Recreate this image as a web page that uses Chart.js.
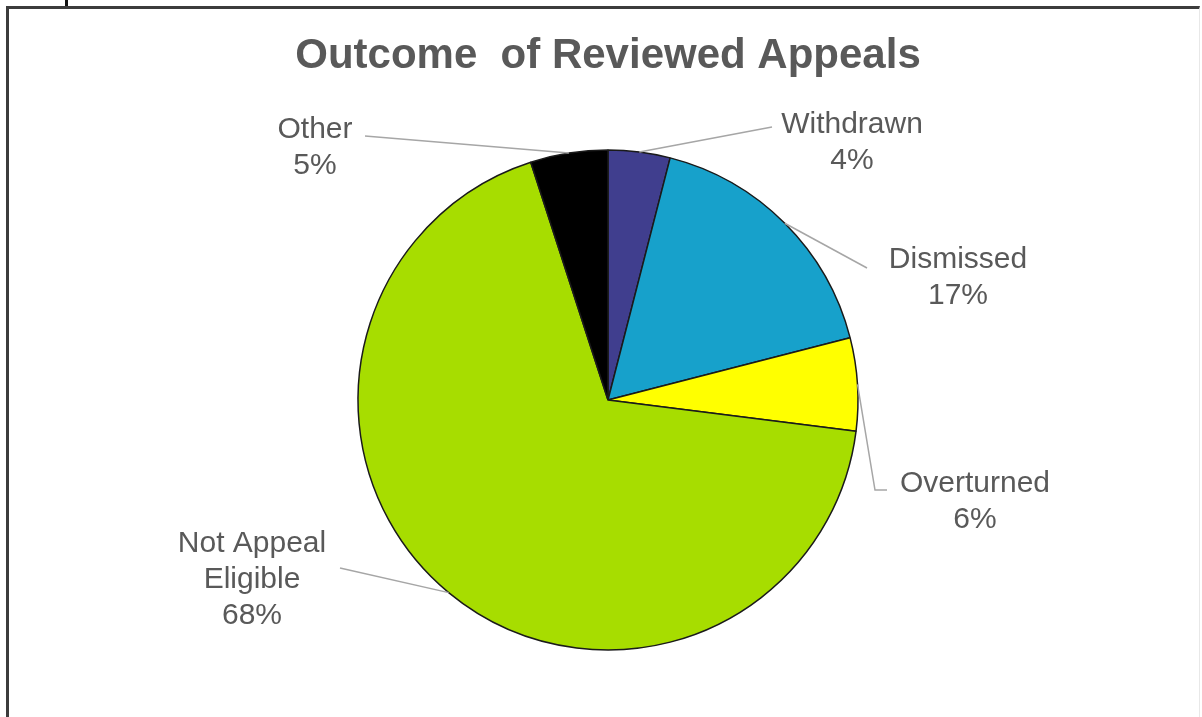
<!DOCTYPE html>
<html>
<head>
<meta charset="utf-8">
<script src="https://cdn.jsdelivr.net/npm/chart.js@4/dist/chart.umd.min.js"></script>
<style>
  html, body { margin: 0; padding: 0; background: #fff; }
  #wrap { position: relative; width: 1202px; height: 717px; overflow: hidden; }
  #frame {
    position: absolute; left: 6px; top: 6px; width: 1194px; height: 711px;
    border-top: 3px solid #3c3c3c; border-left: 3px solid #3c3c3c;
    border-right: 1px solid #e8e8e8; box-sizing: border-box;
  }
  #tick { position: absolute; left: 65px; top: 0; width: 3px; height: 6px; background: #111; }
  canvas { position: absolute; left: 0; top: 0; }
</style>
</head>
<body>
<div id="wrap">
  <div id="frame"></div>
  <div id="tick"></div>
  <canvas id="chart" width="1202" height="717"></canvas>
</div>
<script>
// Appeal outcomes, percent of reviewed appeals
const categories = [['Withdrawn'], ['Dismissed'], ['Overturned'], ['Not Appeal', 'Eligible'], ['Other']];
const shares = [4, 17, 6, 68, 5];
const sliceColors = ['#403e8e', '#17a1cb', '#ffff00', '#a7dd00', '#000000'];
const chartTitle = 'Outcome  of Reviewed Appeals';

// Callout placement relative to the pie centre: leader bend points and text anchor
const calloutLayout = [
  { path: [[164, -273]],            text: [244, -275] },
  { path: [[259, -132]],            text: [350, -140] },
  { path: [[267, 90], [279, 90]],   text: [367, 84] },
  { path: [[-268, 168]],            text: [-356, 144] },
  { path: [[-243, -264]],           text: [-293, -270] }
];

const calloutPlugin = {
  id: 'callouts',
  afterDatasetsDraw(chart) {
    const ctx = chart.ctx;
    const meta = chart.getDatasetMeta(0);
    meta.data.forEach((arc, i) => {
      const p = arc.getProps(['x', 'y', 'startAngle', 'endAngle', 'outerRadius'], true);
      const mid = (p.startAngle + p.endAngle) / 2;
      const sx = p.x + Math.cos(mid) * p.outerRadius;
      const sy = p.y + Math.sin(mid) * p.outerRadius;
      const lay = calloutLayout[i];
      ctx.save();
      ctx.strokeStyle = '#a6a6a6';
      ctx.lineWidth = 1.5;
      ctx.beginPath();
      ctx.moveTo(sx, sy);
      lay.path.forEach(pt => ctx.lineTo(p.x + pt[0], p.y + pt[1]));
      ctx.stroke();
      const lines = chart.data.labels[i].concat([shares[i] + '%']);
      ctx.fillStyle = '#595959';
      ctx.font = '30px "Liberation Sans", Arial, sans-serif';
      ctx.textAlign = 'center';
      ctx.textBaseline = 'middle';
      lines.forEach((t, k) => ctx.fillText(t, p.x + lay.text[0], p.y + lay.text[1] + k * 36));
      ctx.restore();
    });
  }
};

new Chart(document.getElementById('chart'), {
  type: 'pie',
  data: {
    labels: categories,
    datasets: [{
      data: shares,
      backgroundColor: sliceColors,
      borderColor: '#1a1a1a',
      borderWidth: 1.5,
      radius: 250
    }]
  },
  options: {
    responsive: false,
    animation: false,
    devicePixelRatio: 1,
    layout: { padding: { left: 14, right: 0, top: 0, bottom: 0 } },
    plugins: {
      legend: { display: false },
      tooltip: { enabled: false },
      title: {
        display: true,
        text: chartTitle,
        color: '#595959',
        font: { family: '"Liberation Sans", Arial, sans-serif', size: 42, weight: 'bold', lineHeight: 1.2 },
        padding: { top: 30.8, bottom: 1.8 }
      }
    }
  },
  plugins: [calloutPlugin]
});
</script>
</body>
</html>
